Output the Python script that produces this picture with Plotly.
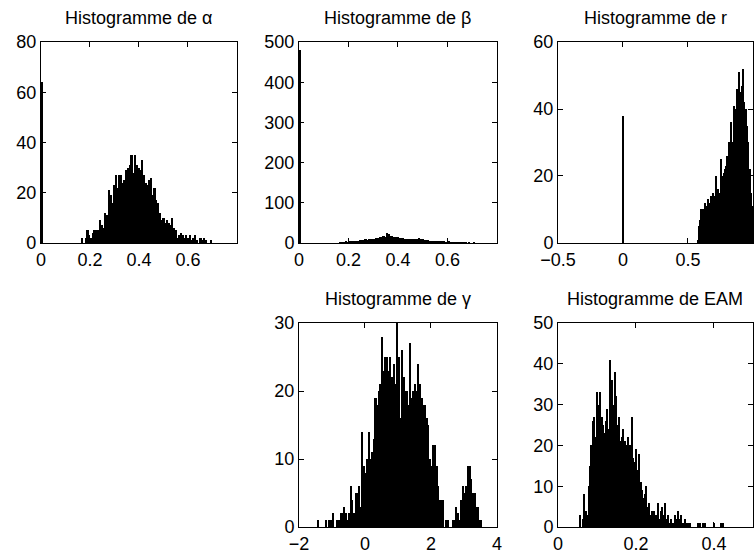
import plotly.graph_objects as go

# --- histogram counts (bin start, bin width, counts) ---
alpha_start, alpha_width = 0.0, 0.0072
alpha_counts = [64] + [0] * 22 + [
    2, 0, 2, 5, 3, 2, 4, 5, 5, 5,
    9, 7, 6, 12, 11, 21, 19, 16, 23, 27,
    22, 27, 27, 24, 25, 29, 30, 31, 35, 28,
    35, 31, 30, 29, 33, 27, 24, 23, 25, 26,
    19, 22, 17, 16, 12, 9, 10, 8, 9, 8,
    7, 10, 6, 5, 2, 3, 4, 3, 2, 3,
    2, 3, 1, 2, 3, 1, 0, 2, 1, 2,
    1, 0, 0, 1, 0, 0, 0,
]

beta_start, beta_width = 0.0, 0.0072
beta_counts = [480] + [0] * 22 + [
    1, 2, 1, 3, 2, 4, 3, 5, 4, 6,
    6, 7, 8, 7, 9, 8, 10, 9, 11, 10,
    12, 13, 14, 16, 17, 15, 25, 22, 18, 17,
    15, 16, 14, 13, 12, 12, 11, 10, 11, 10,
    9, 10, 9, 11, 12, 10, 9, 8, 7, 7,
    6, 5, 5, 4, 4, 3, 3, 4, 3, 2,
    2, 3, 2, 1, 2, 1, 1, 2, 1, 1,
    1, 0, 1, 0, 0, 1, 0,
]

r_start, r_width = 0.0, 0.01
r_counts = [38] + [0] * 56 + [
    1, 5, 7, 10, 10, 7, 12, 11, 13, 12,
    14, 13, 15, 14, 20, 12, 16, 15, 25, 20,
    21, 22, 23, 26, 30, 27, 36, 30, 41, 40,
    46, 43, 51, 45, 47, 52, 42, 40, 35, 30,
    22, 15, 11,
]

gamma_start, gamma_width = -1.45, 0.05
gamma_counts = [
    1, 0, 0, 0, 0, 1, 0, 1, 1, 2,
    0, 0, 1, 1, 2, 2, 3, 2, 1, 2,
    6, 4, 2, 5, 5, 6, 3, 14, 9, 8,
    10, 14, 10, 11, 13, 19, 18, 20, 21, 28,
    23, 25, 25, 23, 25, 22, 24, 21, 30, 25,
    16, 26, 22, 20, 20, 18, 27, 19, 20, 21,
    20, 24, 21, 19, 18, 18, 16, 15, 10, 9,
    12, 12, 9, 6, 4, 4, 4, 0, 1, 1,
    0, 0, 1, 1, 3, 2, 1, 4, 6, 5,
    6, 9, 9, 7, 5, 5, 3, 3, 1, 1,
]

eam_start, eam_width = 0.055, 0.0037
eam_counts = [
    3, 0, 2, 8, 4, 3, 10, 15, 20, 26,
    27, 22, 33, 30, 33, 27, 25, 23, 26, 29,
    24, 41, 36, 30, 38, 32, 25, 27, 21, 22,
    24, 21, 20, 22, 18, 20, 27, 17, 16, 19,
    14, 18, 11, 9, 7, 8, 10, 5, 6, 3,
    4, 4, 3, 3, 6, 2, 4, 5, 3, 6,
    2, 3, 1, 2, 1, 1, 3, 2, 4, 2,
    3, 1, 1, 2, 1, 1, 1, 0, 0, 0,
    0, 0, 1, 1, 0, 1, 0, 1, 0, 0,
    0, 0, 0, 1, 0, 0, 0, 0, 1, 1,
]

titles = ["Histogramme de \u03b1", "Histogramme de \u03b2", "Histogramme de r",
          "Histogramme de \u03b3", "Histogramme de EAM"]

FONT = "Liberation Sans, Arial, Helvetica, sans-serif"

panels = [
    dict(data=(alpha_start, alpha_width, alpha_counts), x=[0.0542, 0.3135], y=[0.5606, 0.924],
         xr=[0, 0.8], xt=[0, 0.2, 0.4, 0.6], yr=[0, 80], yt=[0, 20, 40, 60, 80]),
    dict(data=(beta_start, beta_width, beta_counts), x=[0.3955, 0.6574], y=[0.5606, 0.924],
         xr=[0, 0.8], xt=[0, 0.2, 0.4, 0.6], yr=[0, 500], yt=[0, 100, 200, 300, 400, 500]),
    dict(data=(r_start, r_width, r_counts), x=[0.7381, 0.996], y=[0.5606, 0.924],
         xr=[-0.5, 1], xt=[-0.5, 0, 0.5, 1], yr=[0, 60], yt=[0, 20, 40, 60]),
    dict(data=(gamma_start, gamma_width, gamma_counts), x=[0.3955, 0.6574], y=[0.047, 0.4159],
         xr=[-2, 4], xt=[-2, 0, 2, 4], yr=[0, 30], yt=[0, 10, 20, 30]),
    dict(data=(eam_start, eam_width, eam_counts), x=[0.7381, 0.996], y=[0.047, 0.4159],
         xr=[0, 0.5], xt=[0, 0.2, 0.4], yr=[0, 50], yt=[0, 10, 20, 30, 40, 50]),
]

fig = go.Figure()
layout = {}
annotations = []
for k, p in enumerate(panels):
    n = "" if k == 0 else str(k + 1)
    start, width, counts = p["data"]
    centers = [start + width * (i + 0.5) for i in range(len(counts))]
    fig.add_trace(go.Bar(
        x=centers, y=counts, width=width,
        marker=dict(color="black", line=dict(width=0)),
        xaxis="x" + n, yaxis="y" + n, showlegend=False,
    ))
    common = dict(showline=True, linecolor="black", linewidth=1, mirror="allticks",
                  ticks="inside", ticklen=5, tickcolor="black", showgrid=False,
                  zeroline=False, automargin=False,
                  tickfont=dict(family=FONT, size=18, color="black"))
    layout["xaxis" + n] = dict(domain=p["x"], range=p["xr"], tickvals=p["xt"],
                               anchor="y" + n, ticklabelstandoff=0, **common)
    layout["yaxis" + n] = dict(domain=p["y"], range=p["yr"], tickvals=p["yt"],
                               anchor="x" + n, ticklabelstandoff=0, **common)
    annotations.append(dict(text=titles[k], xref="paper", yref="paper",
                            x=sum(p["x"]) / 2, y=p["y"][1], xanchor="center",
                            yanchor="bottom", yshift=12, showarrow=False,
                            font=dict(family=FONT, size=18, color="black")))

fig.update_layout(**layout)
fig.update_layout(
    width=756, height=553,
    margin=dict(l=0, r=0, t=0, b=0),
    paper_bgcolor="white", plot_bgcolor="white",
    bargap=0, annotations=annotations,
)
# the page body has an 8px default margin; drop it so the figure sits at (0, 0)
fig.write_html("out.html", config={"displayModeBar": False},
               post_script="document.body.style.margin = '0';")
